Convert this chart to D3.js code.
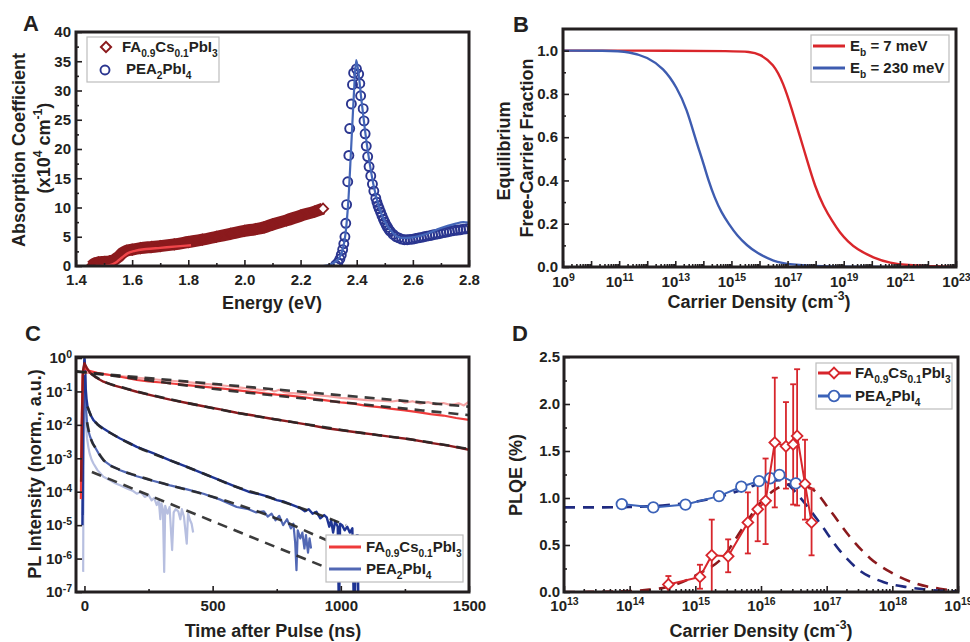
<!DOCTYPE html>
<html>
<head>
<meta charset="utf-8">
<script src="https://cdn.jsdelivr.net/npm/d3@7/dist/d3.min.js"></script>
<style>
  body { margin: 0; background: #fff; }
  text { font-family: "Liberation Sans", Arial, Helvetica, sans-serif; font-weight: bold; fill: #231f20; }
  .ax text { font-size: 15px; }
  .ax line { stroke: #231f20; stroke-width: 1.6; }
</style>
</head>
<body>
<svg id="fig" width="970" height="642"></svg>
<script>
// ---------- Panel A: absorption (energy eV, alpha x1e4 cm-1) ----------
const faAbsorption = [[1.455,0],[1.465,0.4],[1.48,0.6],[1.50,0.7],[1.52,0.8],[1.535,1.0],[1.55,1.5],[1.565,2.2],
  [1.58,2.6],[1.60,2.8],[1.63,3.05],[1.67,3.25],[1.70,3.4],[1.75,3.7],[1.80,4.1],[1.85,4.5],[1.90,5.0],[1.95,5.5],
  [2.00,6.0],[2.04,6.3],[2.07,6.6],[2.10,7.1],[2.15,7.8],[2.20,8.6],[2.25,9.3],[2.28,9.8]];
const faFit = [[1.47,0],[1.52,0.15],[1.545,0.7],[1.565,1.5],[1.585,2.2],[1.61,2.6],[1.65,2.9],[1.70,3.1],[1.76,3.35],[1.81,3.55]];
const peaAbsorption = [[2.325,0.2],[2.333,0.6],[2.340,1.2],[2.345,1.9],[2.350,2.8],[2.354,3.8],[2.358,5.0],[2.361,7.3],
  [2.364,10.5],[2.368,14.4],[2.372,18.9],[2.375,23.5],[2.381,27.7],[2.385,31.0],[2.389,33.0],[2.399,33.7],[2.407,32.8],
  [2.411,31.2],[2.414,29.1],[2.423,26.9],[2.426,24.8],[2.430,22.6],[2.434,20.5],[2.439,18.7],[2.444,17.0],[2.450,15.4],
  [2.456,14.0],[2.461,12.8],[2.468,11.6],[2.472,10.9],[2.476,10.3],[2.480,9.8],[2.485,9.2],[2.490,8.6],[2.495,8.0],
  [2.500,7.5],[2.505,7.0],[2.510,6.6],[2.515,6.2],[2.520,5.9],[2.530,5.4],[2.540,5.0],[2.550,4.8],[2.560,4.6],[2.570,4.5],
  [2.580,4.5],[2.590,4.55],[2.600,4.6],[2.610,4.7],[2.620,4.8],[2.630,4.9],[2.640,5.0],[2.650,5.1],[2.660,5.2],[2.670,5.3],
  [2.680,5.4],[2.690,5.5],[2.700,5.6],[2.710,5.7],[2.720,5.8],[2.730,5.9],[2.740,6.0],[2.750,6.1],[2.760,6.15],[2.770,6.2],
  [2.780,6.3],[2.790,6.35],[2.800,6.4]];
const peaFit = [[2.28,0],[2.30,0.15],[2.32,0.6],[2.34,1.6],[2.35,2.8],[2.36,5.5],[2.37,11],[2.38,20],[2.39,29.5],[2.398,35.2],
  [2.405,33.5],[2.417,28.3],[2.43,23],[2.44,19.5],[2.46,13.8],[2.48,10.0],[2.50,7.6],[2.53,5.6],[2.56,4.8],[2.60,4.9],
  [2.65,5.5],[2.70,6.5],[2.75,7.2],[2.78,7.5],[2.80,7.4]];

// ---------- Panel B: free-carrier fraction (log10 density, fraction) ----------
const fraction7meV = [[9,1],[13,1],[15,0.998],[15.67,0.995],[16,0.985],[16.5,0.94],[16.85,0.85],[17.15,0.73],[17.45,0.60],
  [17.68,0.50],[17.98,0.37],[18.28,0.28],[18.6,0.21],[18.87,0.157],[19.15,0.118],[19.46,0.083],[20.06,0.042],[20.65,0.018],
  [21.3,0.008],[22,0.004],[23,0.001]];
const fraction230meV = [[9,1],[10.5,1],[11.4,0.995],[12,0.97],[12.58,0.92],[13.06,0.83],[13.41,0.73],[13.7,0.60],[13.85,0.54],
  [14.0,0.48],[14.18,0.40],[14.4,0.32],[14.65,0.25],[14.9,0.2],[15.2,0.145],[15.55,0.10],[15.9,0.065],[16.5,0.026],
  [17.09,0.011],[18.28,0.003],[19.5,0.001],[21,0]];

// ---------- Panel C: PL decays (ns, normalised intensity) ----------
const plPink = [[-10,0.02],[-7,0.3],[0,0.36],[20,0.36],[50,0.34],[100,0.31],[150,0.285],[200,0.26],[250,0.24],[300,0.22],
  [350,0.205],[400,0.19],[450,0.175],[500,0.16],[550,0.148],[600,0.132],[650,0.12],[700,0.108],[720,0.118],[740,0.1],
  [760,0.112],[780,0.095],[800,0.09],[850,0.085],[900,0.078],[950,0.072],[1000,0.064],[1050,0.06],[1100,0.055],[1150,0.053],
  [1200,0.05],[1230,0.054],[1250,0.046],[1280,0.051],[1310,0.043],[1340,0.048],[1370,0.041],[1400,0.045],[1430,0.039],
  [1460,0.044],[1480,0.038],[1500,0.05]];
const plRed = [[-14,6e-5],[-11,0.01],[-7,0.3],[-2,0.55],[5,0.47],[15,0.42],[50,0.36],[100,0.31],[150,0.265],[204,0.22],
  [250,0.2],[300,0.185],[350,0.17],[400,0.155],[464,0.14],[500,0.13],[550,0.12],[600,0.108],[650,0.097],[700,0.088],
  [750,0.08],[800,0.075],[850,0.068],[900,0.06],[950,0.053],[1000,0.047],[1050,0.043],[1100,0.037],[1150,0.034],
  [1200,0.03],[1250,0.027],[1300,0.024],[1350,0.021],[1400,0.019],[1450,0.016],[1500,0.014]];
const plDarkRed = [[-13,2e-4],[-10,0.01],[-6,0.4],[0,0.7],[5,0.58],[10,0.5],[22,0.36],[45,0.26],[74,0.195],[110,0.155],
  [150,0.128],[204,0.098],[270,0.074],[334,0.057],[400,0.045],[464,0.036],[530,0.029],[594,0.023],[660,0.019],[724,0.0155],
  [800,0.0125],[870,0.0102],[945,0.0079],[1010,0.0068],[1075,0.0058],[1140,0.005],[1205,0.0043],[1270,0.0037],
  [1350,0.0029],[1420,0.0024],[1500,0.0018]];
const plDarkBlue = [[-8,1e-5],[-5,0.02],[-2,0.5],[0,1.0],[3,0.5],[5,0.12],[8,0.06],[12,0.035],[16,0.028],[25,0.019],
  [35,0.0138],[50,0.0105],[74,0.0078],[100,0.0058],[139,0.0039],[170,0.003],[204,0.0022],[270,0.0014],[334,0.00087],
  [400,0.00055],[464,0.00035],[530,0.00022],[594,0.000138],[640,0.0001],[685,8.3e-5],[720,7e-5],[750,5.6e-5],[780,5e-5],
  [815,3.9e-5],[840,3.3e-5],[860,2.6e-5],[875,3e-5],[890,2.2e-5],[905,2.5e-5],[920,1.6e-5],[935,2.0e-5],[945,1.7e-5],
  [955,9e-6],[962,1.4e-5],[970,6e-6],[978,1.3e-5],[988,9e-6],[993,1e-8],[997,1.1e-5],[1005,1.0e-5],[1015,7e-6],
  [1025,9e-6],[1035,6e-6],[1045,8e-6],[1052,1e-8],[1062,5e-6],[1066,5e-6],[1069,1e-8]];
const plMedBlue = [[-6,2e-5],[-3,0.2],[0,0.9],[3,0.15],[6,0.03],[10,0.012],[15,0.0068],[22,0.0044],[35,0.0026],[48,0.00174],
  [60,0.0012],[74,0.00087],[100,0.00062],[139,0.00044],[170,0.00036],[204,0.00029],[270,0.00021],[334,0.000155],
  [400,0.000118],[464,8.7e-5],[530,5.8e-5],[594,3.5e-5],[640,3.0e-5],[670,2.4e-5],[700,2.6e-5],[715,1.8e-5],[730,2.2e-5],
  [745,1.4e-5],[760,1.9e-5],[775,1.0e-5],[790,1.5e-5],[805,8e-6],[815,1.1e-5],[822,3e-6],[827,4.5e-7],[832,7e-6],
  [842,4e-6],[850,6e-6],[858,2e-6],[864,5e-6],[872,1.5e-6],[878,4e-6],[884,2e-6]];
const plLightBlue = [[-5,4e-7],[-3,0.05],[0,0.8],[2,0.1],[4,0.025],[7,0.008],[10,0.004],[15,0.0022],[20,0.0014],[28,0.0009],
  [35,0.0007],[50,0.00045],[74,0.00028],[100,0.00022],[120,0.00018],[139,0.000155],[170,0.00012],[190,0.000105],
  [204,8.7e-5],[220,9.8e-5],[235,7e-5],[250,8e-5],[262,5.5e-5],[272,6.5e-5],[282,4e-5],[290,5.5e-5],[296,1.5e-5],
  [300,4.5e-5],[306,3e-5],[311,4e-7],[315,3.8e-5],[324,2.2e-5],[332,3.5e-5],[342,1.8e-6],[348,2.4e-5],[356,3e-5],
  [366,2.6e-5],[374,1.5e-5],[380,3e-5],[388,1.8e-5],[399,2.8e-6],[404,2.2e-5],[412,1.4e-5],[418,1.1e-5],[424,6e-6]];
const fitUpper = [[-30,0.39],[1500,0.035]];
const fitLower = [[-30,0.40],[200,0.24],[500,0.12],[800,0.068],[1100,0.040],[1500,0.0195]];
const fitDarkRed = [[25,0.34],[74,0.2],[150,0.13],[204,0.1],[334,0.058],[464,0.036],[594,0.023],[724,0.0155],[870,0.0103],
  [1010,0.0069],[1140,0.005],[1270,0.0037],[1420,0.0024],[1500,0.0019]];
const fitDarkBlue = [[12,0.035],[25,0.019],[50,0.0105],[100,0.0058],[139,0.0039],[204,0.0022],[334,0.00087],[464,0.00035],
  [594,0.000138],[685,8.3e-5],[815,3.9e-5],[945,1.7e-5],[1020,1.0e-5]];
const fitMedBlue = [[10,0.012],[22,0.0045],[48,0.0018],[74,0.0009],[139,0.00045],[204,0.0003],[334,0.000155],[464,8.5e-5],
  [594,4.2e-5],[700,2.2e-5],[800,1.1e-5],[900,5e-6],[950,3.4e-6]];
const fitLightBlue = [[29,3.9e-4],[940,5.5e-7]];

// ---------- Panel D: PLQE (log10 density, PLQE %, low, high) ----------
const plqeFA = [[14.59,0.08,0,0.17],[15.07,0.16,0.035,0.29],[15.25,0.39,0,0.77],[15.50,0.38,0.21,0.56],[15.80,0.74,0.41,1.06],
  [15.95,0.88,0.54,1.16],[16.07,0.97,0.51,1.42],[16.21,1.59,0.90,2.28],[16.38,1.55,1.10,2.02],[16.49,1.57,0.93,2.21],
  [16.55,1.66,0.92,2.37],[16.67,1.15,0.77,1.62],[16.77,0.74,0.39,1.10]];
const plqePEA = [[13.88,0.935],[14.36,0.90],[14.85,0.93],[15.36,1.02],[15.70,1.12],[15.97,1.18],[16.14,1.21],[16.28,1.245],[16.53,1.156]];
const plqeFitFA = [[13,0],[13.5,0.002],[14,0.01],[14.3,0.025],[14.56,0.05],[15.07,0.2],[15.42,0.37],[15.73,0.69],[15.98,0.94],
  [16.24,1.10],[16.5,1.15],[16.77,1.10],[17.05,0.87],[17.35,0.59],[17.66,0.36],[18.0,0.2],[18.36,0.09],[18.72,0.035],[19,0.01]];
const plqeFitPEA = [[13,0.9],[13.5,0.9],[14,0.905],[14.5,0.92],[15,0.96],[15.5,1.04],[15.8,1.11],[16.1,1.18],[16.29,1.19],
  [16.45,1.12],[16.59,1.01],[16.9,0.73],[17.2,0.44],[17.5,0.23],[17.86,0.107],[18.21,0.053],[18.47,0.03],[18.75,0.012],[19,0.005]];

const svg = d3.select("#fig");
const defs = svg.append("defs");

function clip(id, x0, y0, x1, y1) {
  defs.append("clipPath").attr("id", id).append("rect")
    .attr("x", x0).attr("y", y0).attr("width", x1 - x0).attr("height", y1 - y0);
  return svg.append("g").attr("clip-path", `url(#${id})`);
}

function frame(x0, y0, x1, y1) {
  svg.append("rect").attr("x", x0).attr("y", y0).attr("width", x1 - x0).attr("height", y1 - y0)
    .attr("fill", "none").attr("stroke", "#231f20").attr("stroke-width", 3);
}

function axis(orient, scale, pos, major, minor, fmt, pad) {
  const make = orient === "bottom" ? d3.axisBottom : d3.axisLeft;
  const tr = orient === "bottom" ? `translate(0,${pos})` : `translate(${pos},0)`;
  if (minor) {
    svg.append("g").attr("class", "ax").attr("transform", tr)
      .call(make(scale).tickValues(minor).tickSize(-3).tickFormat(""))
      .select(".domain").remove();
  }
  const g = svg.append("g").attr("class", "ax").attr("transform", tr)
    .call(make(scale).tickValues(major).tickSize(-6).tickPadding(pad).tickFormat(fmt));
  g.select(".domain").remove();
  return g;
}

function powLabels(g, show) {
  g.selectAll(".tick text").each(function (d) {
    const e = Math.round(Math.log10(d));
    const t = d3.select(this).text("");
    if (show && !show(e)) return;
    t.text("10");
    t.append("tspan").attr("dy", "-0.5em").attr("font-size", "0.7em").text(e);
  });
}

function rich(x, y, parts, size, anchor, rotate) {
  const t = svg.append("text").attr("font-size", size).attr("text-anchor", anchor || "start")
    .attr("transform", `translate(${x},${y})` + (rotate ? " rotate(-90)" : ""));
  let base = 0;
  parts.forEach(p => {
    const [s, m] = Array.isArray(p) ? p : [p, ""];
    const off = m === "sub" ? 0.3 * size : m === "sup" ? -0.42 * size : 0;
    t.append("tspan").attr("dy", off - base).attr("font-size", m ? size * 0.68 : size).text(s);
    base = off;
  });
  return t;
}

function legendBox(x0, y0, x1, y1) {
  svg.append("rect").attr("x", x0).attr("y", y0).attr("width", x1 - x0).attr("height", y1 - y0)
    .attr("fill", "#fff").attr("stroke", "#bdbdbd").attr("stroke-width", 1.2);
}

const diamond = d3.symbol().type(d3.symbolSquare).size(52)();
const faName = ["FA", ["0.9", "sub"], "Cs", ["0.1", "sub"], "PbI", ["3", "sub"]];
const peaName = ["PEA", ["2", "sub"], "PbI", ["4", "sub"]];
const densityTitle = ["Carrier Density (cm", ["-3", "sup"], ")"];
function decades(a, b) { return d3.range(a, b + 1).map(e => Math.pow(10, e)); }
function minorDecades(a, b) {
  const out = [];
  for (let e = a; e < b; e++) for (let k = 2; k <= 9; k++) out.push(k * Math.pow(10, e));
  return out;
}

// ================= Panel A =================
{
  const x = d3.scaleLinear([1.4, 2.8], [76, 469]);
  const y = d3.scaleLinear([0, 40], [266, 32]);
  const g = clip("clipA", 76, 32, 469, 266);
  const line = d3.line().x(d => x(d[0])).y(d => y(d[1])).curve(d3.curveMonotoneX);

  g.append("path").datum(faAbsorption).attr("d", line).attr("fill", "none")
    .attr("stroke", "#8b1a1d").attr("stroke-width", 12);
  g.selectAll(".fa").data(faAbsorption).join("path")
    .attr("d", diamond)
    .attr("transform", d => `translate(${x(d[0])},${y(d[1])}) rotate(45)`)
    .attr("fill", (d, i) => i === faAbsorption.length - 1 ? "#fff" : "#8b1a1d")
    .attr("stroke", "#8b1a1d").attr("stroke-width", 1.8);
  g.append("path").datum(faFit).attr("d", line).attr("fill", "none")
    .attr("stroke", "#f0464a").attr("stroke-width", 2.4);

  g.selectAll(".pea").data(peaAbsorption).join("circle")
    .attr("cx", d => x(d[0])).attr("cy", d => y(d[1])).attr("r", 4.5)
    .attr("fill", "none").attr("stroke", "#2a358f").attr("stroke-width", 1.9);
  g.append("path").datum(peaFit).attr("d", line).attr("fill", "none")
    .attr("stroke", "#4466b8").attr("stroke-width", 2.2);

  axis("bottom", x, 266, d3.range(1.4, 2.81, 0.2), d3.range(1.5, 2.8, 0.2), d3.format(".1f"), 8);
  axis("left", y, 76, d3.range(0, 41, 5), d3.range(2.5, 40, 5), d3.format("d"), 5);
  frame(76, 32, 469, 266);

  legendBox(87, 37, 219, 82);
  svg.append("path").attr("d", diamond).attr("transform", "translate(106,47) rotate(45)")
    .attr("fill", "#fff").attr("stroke", "#8b1a1d").attr("stroke-width", 2);
  rich(122, 52, faName, 15);
  svg.append("circle").attr("cx", 105).attr("cy", 70).attr("r", 4.5)
    .attr("fill", "#fff").attr("stroke", "#2a358f").attr("stroke-width", 1.9);
  rich(126, 74, peaName, 15);

  rich(272, 309, ["Energy (eV)"], 18, "middle");
  rich(25, 150, ["Absorption Coefficient"], 18, "middle", true);
  rich(50, 148, ["(x10", ["4", "sup"], " cm", ["-1", "sup"], ")"], 18, "middle", true);
  svg.append("text").attr("x", 23).attr("y", 31).attr("font-size", 22).text("A");
}

// ================= Panel B =================
{
  const x = d3.scaleLog([1e9, 1e23], [563, 956]);
  const y = d3.scaleLinear([0, 1.1], [267, 29]);
  const g = clip("clipB", 563, 29, 956, 267);
  const line = d3.line().x(d => x(Math.pow(10, d[0]))).y(d => y(d[1])).curve(d3.curveBasis);
  g.append("path").datum(fraction7meV).attr("d", line).attr("fill", "none")
    .attr("stroke", "#d9262b").attr("stroke-width", 2.4);
  g.append("path").datum(fraction230meV).attr("d", line).attr("fill", "none")
    .attr("stroke", "#3e5cb0").attr("stroke-width", 2.4);

  const gx = axis("bottom", x, 267, decades(9, 23), minorDecades(9, 23), () => "", 9);
  powLabels(gx, e => e % 2 === 1);
  axis("left", y, 563, d3.range(0, 1.01, 0.2), d3.range(0.1, 1.1, 0.2), d3.format(".1f"), 5);
  frame(563, 29, 956, 267);

  legendBox(811, 35, 949, 82);
  svg.append("line").attr("x1", 813).attr("x2", 845).attr("y1", 46).attr("y2", 46)
    .attr("stroke", "#d9262b").attr("stroke-width", 3);
  rich(850, 51, ["E", ["b", "sub"], " = 7 meV"], 15);
  svg.append("line").attr("x1", 813).attr("x2", 845).attr("y1", 68).attr("y2", 68)
    .attr("stroke", "#3e5cb0").attr("stroke-width", 3);
  rich(850, 73, ["E", ["b", "sub"], " = 230 meV"], 15);

  rich(759, 308, densityTitle, 18, "middle");
  rich(510, 151, ["Equilibrium"], 18, "middle", true);
  rich(533, 148, ["Free-Carrier Fraction"], 18, "middle", true);
  svg.append("text").attr("x", 513).attr("y", 32).attr("font-size", 22).text("B");
}

// ================= Panel C =================
{
  const x = d3.scaleLinear([-33, 1500], [76, 469]);
  const y = d3.scaleLog([1e-7, Math.pow(10, 0.03)], [592, 357]);
  const g = clip("clipC", 76, 357, 469, 592);
  const line = d3.line().x(d => x(d[0])).y(d => y(d[1]));
  const smooth = d3.line().x(d => x(d[0])).y(d => y(d[1])).curve(d3.curveMonotoneX);
  const draw = (data, color, w) => g.append("path").datum(data).attr("d", line).attr("fill", "none")
    .attr("stroke", color).attr("stroke-width", w).attr("stroke-linejoin", "round");
  const dash = data => g.append("path").datum(data).attr("d", smooth).attr("fill", "none")
    .attr("stroke", "#262626").attr("stroke-width", 2.6).attr("stroke-dasharray", "10,7").attr("opacity", 0.9);

  draw(plLightBlue, "#b7bfe0", 2.2);
  draw(plMedBlue, "#5268b4", 2.2);
  draw(plDarkBlue, "#1f3594", 2.4);
  draw(plPink, "#f5a3a3", 2.2);
  draw(plRed, "#ee3b3b", 2.2);
  draw(plDarkRed, "#8b1a1d", 2.4);
  dash(fitUpper); dash(fitLower); dash(fitDarkRed);
  dash(fitDarkBlue); dash(fitMedBlue); dash(fitLightBlue);

  axis("bottom", x, 592, [0, 500, 1000, 1500], [250, 750, 1250], d3.format("d"), 8);
  const gy = axis("left", y, 76, decades(-7, 0), null, () => "", 4);
  powLabels(gy);
  frame(76, 357, 469, 592);

  legendBox(326, 535, 463, 582);
  svg.append("line").attr("x1", 329).attr("x2", 361).attr("y1", 547).attr("y2", 547)
    .attr("stroke", "#ee3b3b").attr("stroke-width", 3);
  rich(366, 552, faName, 15);
  svg.append("line").attr("x1", 329).attr("x2", 361).attr("y1", 569).attr("y2", 569)
    .attr("stroke", "#5268b4").attr("stroke-width", 3);
  rich(366, 574, peaName, 15);

  rich(273, 637, ["Time after Pulse (ns)"], 18, "middle");
  rich(41, 474, ["PL Intensity (norm., a.u.)"], 18, "middle", true);
  svg.append("text").attr("x", 25).attr("y", 341).attr("font-size", 22).text("C");
}

// ================= Panel D =================
{
  const x = d3.scaleLog([1e13, 1e19], [564, 958]);
  const y = d3.scaleLinear([0, 2.5], [592, 357]);
  const g = clip("clipD", 564, 357, 958, 592);
  const px = e => x(Math.pow(10, e));
  const smooth = d3.line().x(d => px(d[0])).y(d => y(d[1])).curve(d3.curveMonotoneX);
  const line = d3.line().x(d => px(d[0])).y(d => y(d[1]));

  g.append("path").datum(plqeFitFA).attr("d", smooth).attr("fill", "none")
    .attr("stroke", "#8b1a1d").attr("stroke-width", 2.6).attr("stroke-dasharray", "11,8");
  g.append("path").datum(plqeFitPEA).attr("d", smooth).attr("fill", "none")
    .attr("stroke", "#1f2a80").attr("stroke-width", 2.6).attr("stroke-dasharray", "11,8");

  const bars = g.selectAll(".err").data(plqeFA).join("g").attr("stroke", "#d7262c").attr("stroke-width", 1.8);
  bars.append("line").attr("x1", d => px(d[0])).attr("x2", d => px(d[0])).attr("y1", d => y(d[2])).attr("y2", d => y(d[3]));
  bars.append("line").attr("x1", d => px(d[0]) - 3).attr("x2", d => px(d[0]) + 3).attr("y1", d => y(d[2])).attr("y2", d => y(d[2]));
  bars.append("line").attr("x1", d => px(d[0]) - 3).attr("x2", d => px(d[0]) + 3).attr("y1", d => y(d[3])).attr("y2", d => y(d[3]));

  g.append("path").datum(plqePEA).attr("d", line).attr("fill", "none").attr("stroke", "#3b62b8").attr("stroke-width", 2);
  g.selectAll(".pc").data(plqePEA).join("circle")
    .attr("cx", d => px(d[0])).attr("cy", d => y(d[1])).attr("r", 5.3)
    .attr("fill", "#fff").attr("stroke", "#3b62b8").attr("stroke-width", 1.8);
  g.append("path").datum(plqeFA).attr("d", line).attr("fill", "none").attr("stroke", "#d7262c").attr("stroke-width", 2);
  g.selectAll(".fd").data(plqeFA).join("path").attr("d", d3.symbol().type(d3.symbolSquare).size(58)())
    .attr("transform", d => `translate(${px(d[0])},${y(d[1])}) rotate(45)`)
    .attr("fill", "#fff").attr("stroke", "#d7262c").attr("stroke-width", 1.8);

  const gx = axis("bottom", x, 592, decades(13, 19), minorDecades(13, 19), () => "", 8);
  powLabels(gx);
  axis("left", y, 564, d3.range(0, 2.51, 0.5), d3.range(0.25, 2.5, 0.5), d3.format(".1f"), 4);
  frame(564, 357, 958, 592);

  legendBox(816, 363, 952, 409);
  svg.append("line").attr("x1", 818).attr("x2", 851).attr("y1", 373).attr("y2", 373)
    .attr("stroke", "#d7262c").attr("stroke-width", 3);
  svg.append("path").attr("d", d3.symbol().type(d3.symbolSquare).size(58)())
    .attr("transform", "translate(834,373) rotate(45)").attr("fill", "#fff").attr("stroke", "#d7262c").attr("stroke-width", 1.8);
  rich(855, 378, faName, 15);
  svg.append("line").attr("x1", 818).attr("x2", 851).attr("y1", 396).attr("y2", 396)
    .attr("stroke", "#3b62b8").attr("stroke-width", 3);
  svg.append("circle").attr("cx", 834).attr("cy", 396).attr("r", 5.3)
    .attr("fill", "#fff").attr("stroke", "#3b62b8").attr("stroke-width", 1.8);
  rich(855, 401, peaName, 15);

  rich(761, 637, densityTitle, 18, "middle");
  rich(522, 475, ["PLQE (%)"], 18, "middle", true);
  svg.append("text").attr("x", 512).attr("y", 341).attr("font-size", 22).text("D");
}
</script>
</body>
</html>
